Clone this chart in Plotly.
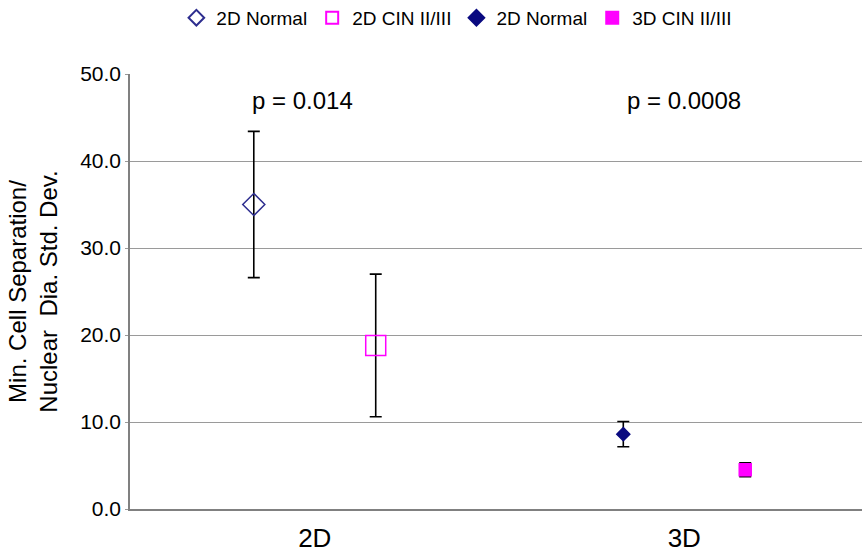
import plotly.graph_objects as go

categories = ["2D", "3D"]
series_names = ["2D Normal", "2D CIN II/III", "2D Normal", "3D CIN II/III"]
series_cat = ["2D", "2D", "3D", "3D"]
means = [35.0, 18.8, 8.6, 4.5]
errs = [8.4, 8.2, 1.45, 0.8]
p_labels = ["p = 0.014", "p = 0.0008"]
y_ticks = [0, 10, 20, 30, 40, 50]

symbols = ["diamond-open", "square-open", "diamond", "square"]
colors = ["#2e2e8f", "#ff00ff", "#0a0a80", "#ff00ff"]
sizes = [17, 20, 10, 12]
groups = ["a", "b", "a", "b"]
p_shift = [-12, 0]

FONT = "Liberation Sans, Arial, sans-serif"

fig = go.Figure()
for i in range(4):
    fig.add_trace(go.Scatter(
        x=[series_cat[i]], y=[means[i]], name=series_names[i],
        mode="markers", offsetgroup=groups[i],
        marker=dict(symbol=symbols[i], color=colors[i], size=sizes[i],
                    line=dict(color=colors[i], width=1.5)),
        error_y=dict(type="data", array=[errs[i]], color="black",
                     thickness=1.6, width=6),
    ))

for c, t, s in zip(categories, p_labels, p_shift):
    fig.add_annotation(x=c, y=47, text=t, showarrow=False, xshift=s,
                       font=dict(family=FONT, size=24, color="black"))

fig.update_layout(
    width=862, height=557,
    margin=dict(l=130, r=0, t=74, b=48),
    paper_bgcolor="white", plot_bgcolor="white",
    scattermode="group", scattergap=0.34,
    font=dict(family=FONT, color="black"),
    showlegend=True,
    legend=dict(orientation="h", xref="container", x=0.53, xanchor="center",
                yref="container", y=0.968, yanchor="middle",
                font=dict(family=FONT, size=19), itemwidth=30, tracegroupgap=0,
                itemsizing="constant"),
)
fig.update_xaxes(
    type="category", categoryorder="array", categoryarray=categories,
    range=[-0.5, 1.481], showgrid=False, showline=True, linecolor="#808080",
    linewidth=1.5, ticks="", tickfont=dict(family=FONT, size=26), zeroline=False,
    ticklabelstandoff=5,
)
fig.update_yaxes(
    range=[0, 50], tickvals=y_ticks, tickformat=".1f",
    showgrid=True, gridcolor="#9a9a9a", gridwidth=1.2,
    showline=True, linecolor="#808080", linewidth=1.5,
    ticks="outside", ticklen=3, tickcolor="#999999",
    tickfont=dict(family=FONT, size=21), zeroline=False,
    title=dict(text="Min. Cell Separation/<br>Nuclear  Dia. Std. Dev.",
               font=dict(family=FONT, size=24), standoff=16),
)
fig.write_html("out.html")
